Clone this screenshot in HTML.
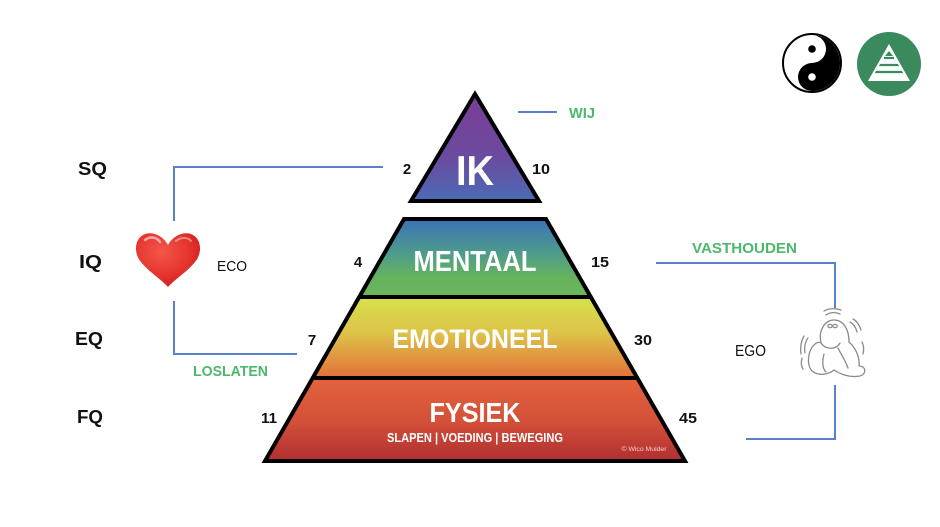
<!DOCTYPE html>
<html><head><meta charset="utf-8">
<style>
html,body{margin:0;padding:0;background:#fff;}
svg{display:block;}
text{font-family:"Liberation Sans",sans-serif;}
</style></head>
<body>
<svg width="940" height="527" viewBox="0 0 940 527" xmlns="http://www.w3.org/2000/svg">
<defs>
<linearGradient id="gIk" x1="0" y1="92" x2="0" y2="202" gradientUnits="userSpaceOnUse">
<stop offset="0" stop-color="#7C3C95"/><stop offset="0.6" stop-color="#6A4B9F"/><stop offset="1" stop-color="#4A6CB5"/></linearGradient>
<linearGradient id="gMen" x1="0" y1="219" x2="0" y2="297" gradientUnits="userSpaceOnUse">
<stop offset="0" stop-color="#3B72B9"/><stop offset="0.45" stop-color="#4E9C8A"/><stop offset="0.75" stop-color="#66B35E"/><stop offset="1" stop-color="#6CB45A"/></linearGradient>
<linearGradient id="gEmo" x1="0" y1="297" x2="0" y2="378" gradientUnits="userSpaceOnUse">
<stop offset="0" stop-color="#D6E24C"/><stop offset="0.45" stop-color="#DDC248"/><stop offset="1" stop-color="#E2703A"/></linearGradient>
<linearGradient id="gFys" x1="0" y1="378" x2="0" y2="462" gradientUnits="userSpaceOnUse">
<stop offset="0" stop-color="#E2633C"/><stop offset="0.5" stop-color="#D4513A"/><stop offset="1" stop-color="#B02E30"/></linearGradient>
<radialGradient id="gHeart" cx="0.4" cy="0.35" r="0.7">
<stop offset="0" stop-color="#F4564A"/><stop offset="0.7" stop-color="#E2302A"/><stop offset="1" stop-color="#C81E1E"/></radialGradient>
</defs>

<!-- top triangle -->
<polygon points="475,94 411,201 539,201" fill="url(#gIk)" stroke="#000" stroke-width="4" stroke-linejoin="miter"/>
<text x="475" y="185" font-size="42" font-weight="bold" fill="#fff" text-anchor="middle" textLength="38" lengthAdjust="spacingAndGlyphs">IK</text>

<!-- trapezoid bands -->
<polygon points="404,219 546,219 591,297 359,297" fill="url(#gMen)"/>
<polygon points="359,297 591,297 637,378 313,378" fill="url(#gEmo)"/>
<polygon points="313,378 637,378 685,461 265,461" fill="url(#gFys)"/>
<line x1="359" y1="297" x2="591" y2="297" stroke="#000" stroke-width="4"/>
<line x1="313" y1="378" x2="637" y2="378" stroke="#000" stroke-width="4"/>
<polygon points="404,219 546,219 685,461 265,461" fill="none" stroke="#000" stroke-width="4" stroke-linejoin="miter"/>

<text x="475" y="271" font-size="29" font-weight="bold" fill="#fff" text-anchor="middle" textLength="123" lengthAdjust="spacingAndGlyphs">MENTAAL</text>
<text x="475" y="348" font-size="27" font-weight="bold" fill="#fff" text-anchor="middle" textLength="165" lengthAdjust="spacingAndGlyphs">EMOTIONEEL</text>
<text x="475" y="422" font-size="28" font-weight="bold" fill="#fff" text-anchor="middle" textLength="91" lengthAdjust="spacingAndGlyphs">FYSIEK</text>
<text x="475" y="442" font-size="12.5" font-weight="bold" fill="#fff" text-anchor="middle" textLength="176" lengthAdjust="spacingAndGlyphs">SLAPEN | VOEDING | BEWEGING</text>
<text x="644" y="451" font-size="6" fill="#f3d0c8" text-anchor="middle" textLength="45" lengthAdjust="spacingAndGlyphs">© Wico Mulder</text>

<!-- numbers -->
<g font-size="15" font-weight="bold" fill="#111" text-anchor="middle">
<text x="407" y="174">2</text>
<text x="541" y="174" textLength="18" lengthAdjust="spacingAndGlyphs">10</text>
<text x="358" y="267">4</text>
<text x="600" y="267" textLength="18" lengthAdjust="spacingAndGlyphs">15</text>
<text x="312" y="345">7</text>
<text x="643" y="345" textLength="18" lengthAdjust="spacingAndGlyphs">30</text>
<text x="269" y="423" textLength="16" lengthAdjust="spacingAndGlyphs">11</text>
<text x="688" y="423" textLength="18" lengthAdjust="spacingAndGlyphs">45</text>
</g>

<!-- left labels -->
<g font-size="18" font-weight="bold" fill="#111">
<text x="78" y="175" textLength="29" lengthAdjust="spacingAndGlyphs">SQ</text>
<text x="79" y="268" textLength="23" lengthAdjust="spacingAndGlyphs">IQ</text>
<text x="75" y="345" textLength="28" lengthAdjust="spacingAndGlyphs">EQ</text>
<text x="77" y="423" textLength="26" lengthAdjust="spacingAndGlyphs">FQ</text>
</g>

<!-- blue connectors -->
<g stroke="#5A7FCB" stroke-width="2" fill="none">
<polyline points="174,221 174,167 383,167"/>
<polyline points="174,301 174,354 297,354"/>
<line x1="518" y1="112" x2="557" y2="112"/>
<polyline points="656,263 835,263 835,308"/>
<polyline points="835,385 835,439 746,439"/>
</g>

<!-- green labels -->
<g font-size="15" font-weight="bold" fill="#4DB86B">
<text x="569" y="118" textLength="26" lengthAdjust="spacingAndGlyphs">WIJ</text>
<text x="193" y="376" textLength="75" lengthAdjust="spacingAndGlyphs">LOSLATEN</text>
<text x="692" y="253" textLength="105" lengthAdjust="spacingAndGlyphs">VASTHOUDEN</text>
</g>

<text x="217" y="271" font-size="14.5" fill="#111" textLength="30" lengthAdjust="spacingAndGlyphs">ECO</text>
<text x="735" y="356" font-size="15.5" fill="#111" textLength="31" lengthAdjust="spacingAndGlyphs">EGO</text>

<!-- heart -->
<path d="M168,245 C162,234 150,231 143,235 C134,240 134,254 141,262 C149,272 162,280 168,287 C174,280 187,272 195,262 C202,254 202,240 193,235 C186,231 174,234 168,245 Z" fill="url(#gHeart)"/>
<path d="M145,240 C150,236 157,237 160,242" stroke="#fff" stroke-opacity="0.55" stroke-width="2.5" fill="none" stroke-linecap="round"/>
<path d="M176,241 C181,237 188,237 191,241" stroke="#fff" stroke-opacity="0.4" stroke-width="2" fill="none" stroke-linecap="round"/>

<!-- scared figure -->
<g stroke="#8a8a8a" stroke-width="1.3" fill="none" stroke-linecap="round" stroke-linejoin="round">
<path d="M821,343 C818,330 825,320 834,320 C844,320 849,330 849,342"/>
<path d="M849,342 C856,348 860,358 859,366 C866,366 867,374 860,376 C850,378 840,374 834,370"/>
<path d="M834,370 C828,375 818,376 812,371 C806,364 808,350 815,344 C818,341 821,343 821,343"/>
<path d="M821,343 C826,350 836,350 840,343"/>
<path d="M838,348 C842,356 846,362 848,368"/>
<path d="M824,354 C822,362 822,368 826,372"/>
<ellipse cx="830" cy="326" rx="2.2" ry="1.6"/>
<ellipse cx="835" cy="326" rx="2.2" ry="1.6"/>
<path d="M826,315 C830,312 836,312 840,314"/>
<path d="M824,311 C829,308 836,308 841,310"/>
<path d="M850,322 C854,324 856,328 857,332"/>
<path d="M853,319 C857,321 860,326 861,330"/>
<path d="M808,338 C805,342 804,348 805,353"/>
<path d="M804,336 C801,341 800,348 801,354"/>
<path d="M862,342 C864,346 864,350 863,354"/>
<path d="M802,358 C801,362 801,366 803,369"/>
</g>

<!-- yin yang -->
<circle cx="812" cy="63" r="29" fill="#fff" stroke="#000" stroke-width="2"/>
<path d="M812,35 A28,28 0 0 1 812,91 A14,14 0 0 1 812,63 A14,14 0 0 0 812,35 Z" fill="#000"/>
<circle cx="812" cy="49" r="3.8" fill="#000"/>
<circle cx="812" cy="77" r="3.8" fill="#fff"/>

<!-- green pyramid icon -->
<circle cx="889" cy="64" r="32" fill="#3A8A5D"/>
<polygon points="889,44 868,81 910,81" fill="#fff"/>
<g stroke="#3A8A5D" stroke-width="2.2">
<line x1="884" y1="58" x2="894" y2="58"/>
<line x1="878" y1="65" x2="900" y2="65"/>
<line x1="874" y1="72" x2="904" y2="72"/>
</g>
<polygon points="889,51 885,56 893,56" fill="#3A8A5D"/>
<polygon points="889,47 870,80 908,80" fill="none" stroke="#fff" stroke-width="1.5"/>
</svg>
</body></html>
